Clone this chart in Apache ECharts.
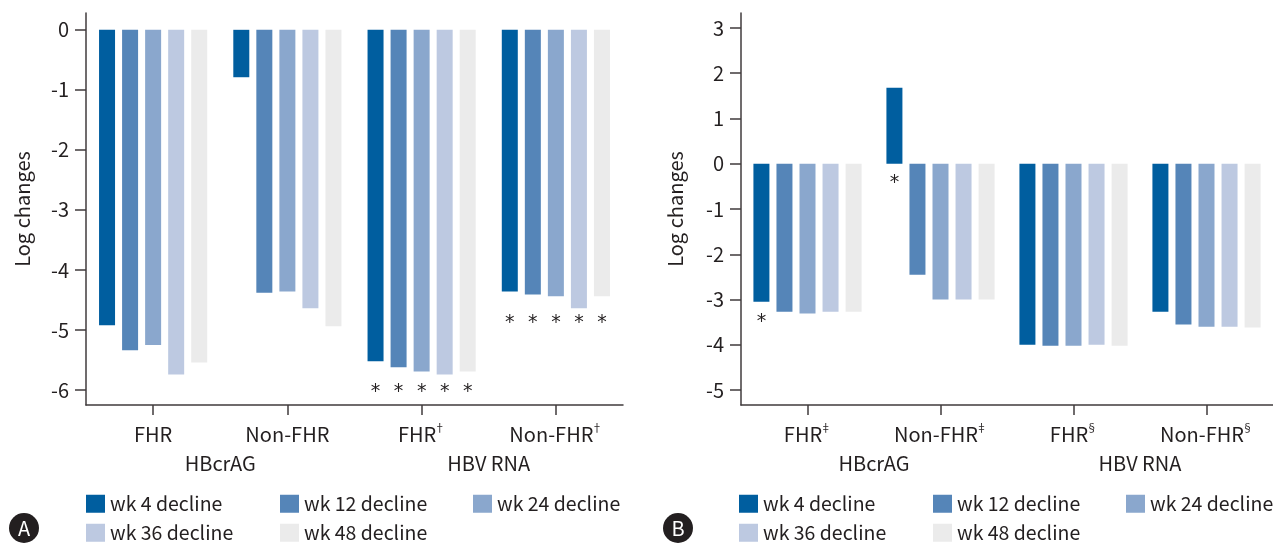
<!DOCTYPE html>
<html>
<head>
<meta charset="utf-8">
<script src="https://cdn.jsdelivr.net/npm/echarts@6/dist/echarts.min.js"></script>
<style>
  html, body { margin: 0; padding: 0; background: #ffffff; }
  #chart { width: 1273px; height: 543px; }
</style>
</head>
<body>
<div id="chart"></div>
<script>
// Series names (one per time point)
const weeks = ['wk 4 decline', 'wk 12 decline', 'wk 24 decline', 'wk 36 decline', 'wk 48 decline'];

// Panel A categories
const catsA = ['FHR', 'Non-FHR', 'FHR\u2020', 'Non-FHR\u2020'];
const groupsA = ['HBcrAG', 'HBV RNA'];
// Panel B categories
const catsB = ['FHR\u2021', 'Non-FHR\u2021', 'FHR\u00a7', 'Non-FHR\u00a7'];
const groupsB = ['HBcrAG', 'HBV RNA'];

// Panel A log changes, one value per category
const wk4A  = [-4.92, -0.79, -5.52, -4.36];
const wk12A = [-5.34, -4.38, -5.62, -4.41];
const wk24A = [-5.25, -4.36, -5.69, -4.44];
const wk36A = [-5.74, -4.64, -5.74, -4.64];
const wk48A = [-5.54, -4.94, -5.69, -4.44];

// Panel B log changes
const wk4B  = [-3.05,  1.68, -4.00, -3.27];
const wk12B = [-3.27, -2.45, -4.02, -3.55];
const wk24B = [-3.31, -3.00, -4.02, -3.60];
const wk36B = [-3.27, -3.00, -4.00, -3.60];
const wk48B = [-3.27, -3.00, -4.02, -3.62];

// Significance marks: level where the '*' sits (null = no mark)
const starA4  = [null, null, -5.95, -4.80];
const starA12 = [null, null, -5.95, -4.80];
const starA24 = [null, null, -5.95, -4.80];
const starA36 = [null, null, -5.95, -4.80];
const starA48 = [null, null, -5.95, -4.80];
const starB4  = [-3.39, -0.32, null, null];
const starB12 = [null, null, null, null];
const starB24 = [null, null, null, null];
const starB36 = [null, null, null, null];
const starB48 = [null, null, null, null];

// Y-axis tick values
const yTicksA = [0, -1, -2, -3, -4, -5, -6];
const yTicksB = [3, 2, 1, 0, -1, -2, -3, -4, -5];

const palette = ['#005e9f', '#5585b8', '#8aa7cd', '#bdc9e1', '#ebebeb'];
const INK = '#231f20';
const AXIS = '#403b3c';
const FONT = '"Noto Sans CJK KR", "Noto Sans", sans-serif';

const valuesA = [wk4A, wk12A, wk24A, wk36A, wk48A];
const valuesB = [wk4B, wk12B, wk24B, wk36B, wk48B];
const starsA = [starA4, starA12, starA24, starA36, starA48];
const starsB = [starB4, starB12, starB24, starB36, starB48];

// Category label with optional superscript mark
function catLabel(v) {
  const last = v.charAt(v.length - 1);
  if ('\u2020\u2021\u00a7'.indexOf(last) >= 0) {
    return '{m|' + v.slice(0, -1) + '}{s|' + last + '}';
  }
  return '{m|' + v + '}';
}

function xAxesFor(grid, cats, groups) {
  return [
    {
      gridIndex: grid, type: 'category', data: cats, position: 'bottom',
      axisLine: { show: true, onZero: false, lineStyle: { color: AXIS, width: 1.5 } },
      axisTick: { show: true, alignWithLabel: true, length: 10, lineStyle: { color: AXIS, width: 1.5 } },
      axisLabel: {
        interval: 0, margin: 17, formatter: catLabel, color: INK, fontFamily: FONT,
        rich: {
          m: { fontSize: 20, fontFamily: FONT, color: INK, lineHeight: 24 },
          s: { fontSize: 11, fontFamily: FONT, color: INK, verticalAlign: 'top', lineHeight: 14, padding: [0, 0, 0, -2] }
        }
      },
      splitLine: { show: false }
    },
    { // layout axis for the significance marks
      gridIndex: grid, type: 'category', data: cats, show: false
    },
    { // group labels under the category labels
      gridIndex: grid, type: 'category', data: groups, position: 'bottom',
      axisLine: { show: false }, axisTick: { show: false }, splitLine: { show: false },
      axisLabel: { interval: 0, margin: 48, fontSize: 20, color: INK, fontFamily: FONT }
    }
  ];
}

function yAxisFor(grid, min, max, ticks, gap) {
  return {
    gridIndex: grid, type: 'value', min: min, max: max,
    name: 'Log changes', nameLocation: 'middle', nameGap: gap,
    nameTextStyle: { fontSize: 20, color: INK, fontFamily: FONT },
    axisLine: { show: true, onZero: false, lineStyle: { color: AXIS, width: 1.5 } },
    axisTick: { show: true, length: 11, customValues: ticks, lineStyle: { color: AXIS, width: 1.5 } },
    axisLabel: { customValues: ticks, margin: 17, fontSize: 20, color: INK, fontFamily: FONT },
    splitLine: { show: false }
  };
}

function barsFor(xBase, yIdx, values, stars) {
  const out = [];
  weeks.forEach(function (w, i) {
    out.push({
      name: w, type: 'bar', xAxisIndex: xBase, yAxisIndex: yIdx,
      data: values[i], barWidth: 16, barGap: '44%',
      itemStyle: { color: palette[i] },
      emphasis: { disabled: true }
    });
  });
  weeks.forEach(function (w, i) {
    out.push({
      name: 'mark ' + w, type: 'bar', xAxisIndex: xBase + 1, yAxisIndex: yIdx,
      data: stars[i].map(function (v) { return v === null ? '-' : v; }),
      barWidth: 16, barGap: '44%', silent: true,
      itemStyle: { color: 'rgba(0,0,0,0)' },
      emphasis: { disabled: true },
      label: {
        show: true, position: 'insideBottom', distance: 0, verticalAlign: 'middle',
        offset: [0, 5],
        formatter: '*', fontSize: 19, color: INK, fontFamily: '"DejaVu Sans", sans-serif'
      }
    });
  });
  return out;
}

function legendsFor(left0) {
  const cols = [0, 194, 387];
  const rows = [494, 523];
  return weeks.map(function (w, i) {
    return {
      data: [w], left: left0 + cols[i % 3], top: rows[Math.floor(i / 3)],
      padding: 0, itemWidth: 19, itemHeight: 18, icon: 'rect',
      selectedMode: false,
      textStyle: { fontSize: 19.5, color: INK, fontFamily: FONT }
    };
  });
}

const chart = echarts.init(document.getElementById('chart'), null, { renderer: 'canvas' });

chart.setOption({
  animation: false,
  backgroundColor: '#ffffff',
  color: palette,
  grid: [
    { left: 86, top: 13, width: 537, height: 392 },
    { left: 741, top: 13, width: 532, height: 392 }
  ],
  xAxis: [].concat(xAxesFor(0, catsA, groupsA), xAxesFor(1, catsB, groupsB)),
  yAxis: [
    yAxisFor(0, -6.25, 0.28, yTicksA, 54),
    yAxisFor(1, -5.33, 3.33, yTicksB, 56)
  ],
  legend: [].concat(legendsFor(86), legendsFor(739)),
  series: [].concat(barsFor(0, 0, valuesA, starsA), barsFor(3, 1, valuesB, starsB)),
  graphic: [
    { type: 'circle', shape: { cx: 24, cy: 528, r: 15 }, style: { fill: INK }, silent: true },
    { type: 'text', x: 24, y: 528, silent: true,
      style: { text: 'A', fill: '#ffffff', fontSize: 20, fontFamily: FONT, align: 'center', verticalAlign: 'middle' } },
    { type: 'circle', shape: { cx: 678, cy: 528, r: 15 }, style: { fill: INK }, silent: true },
    { type: 'text', x: 678, y: 528, silent: true,
      style: { text: 'B', fill: '#ffffff', fontSize: 20, fontFamily: FONT, align: 'center', verticalAlign: 'middle' } }
  ]
});
</script>
</body>
</html>
